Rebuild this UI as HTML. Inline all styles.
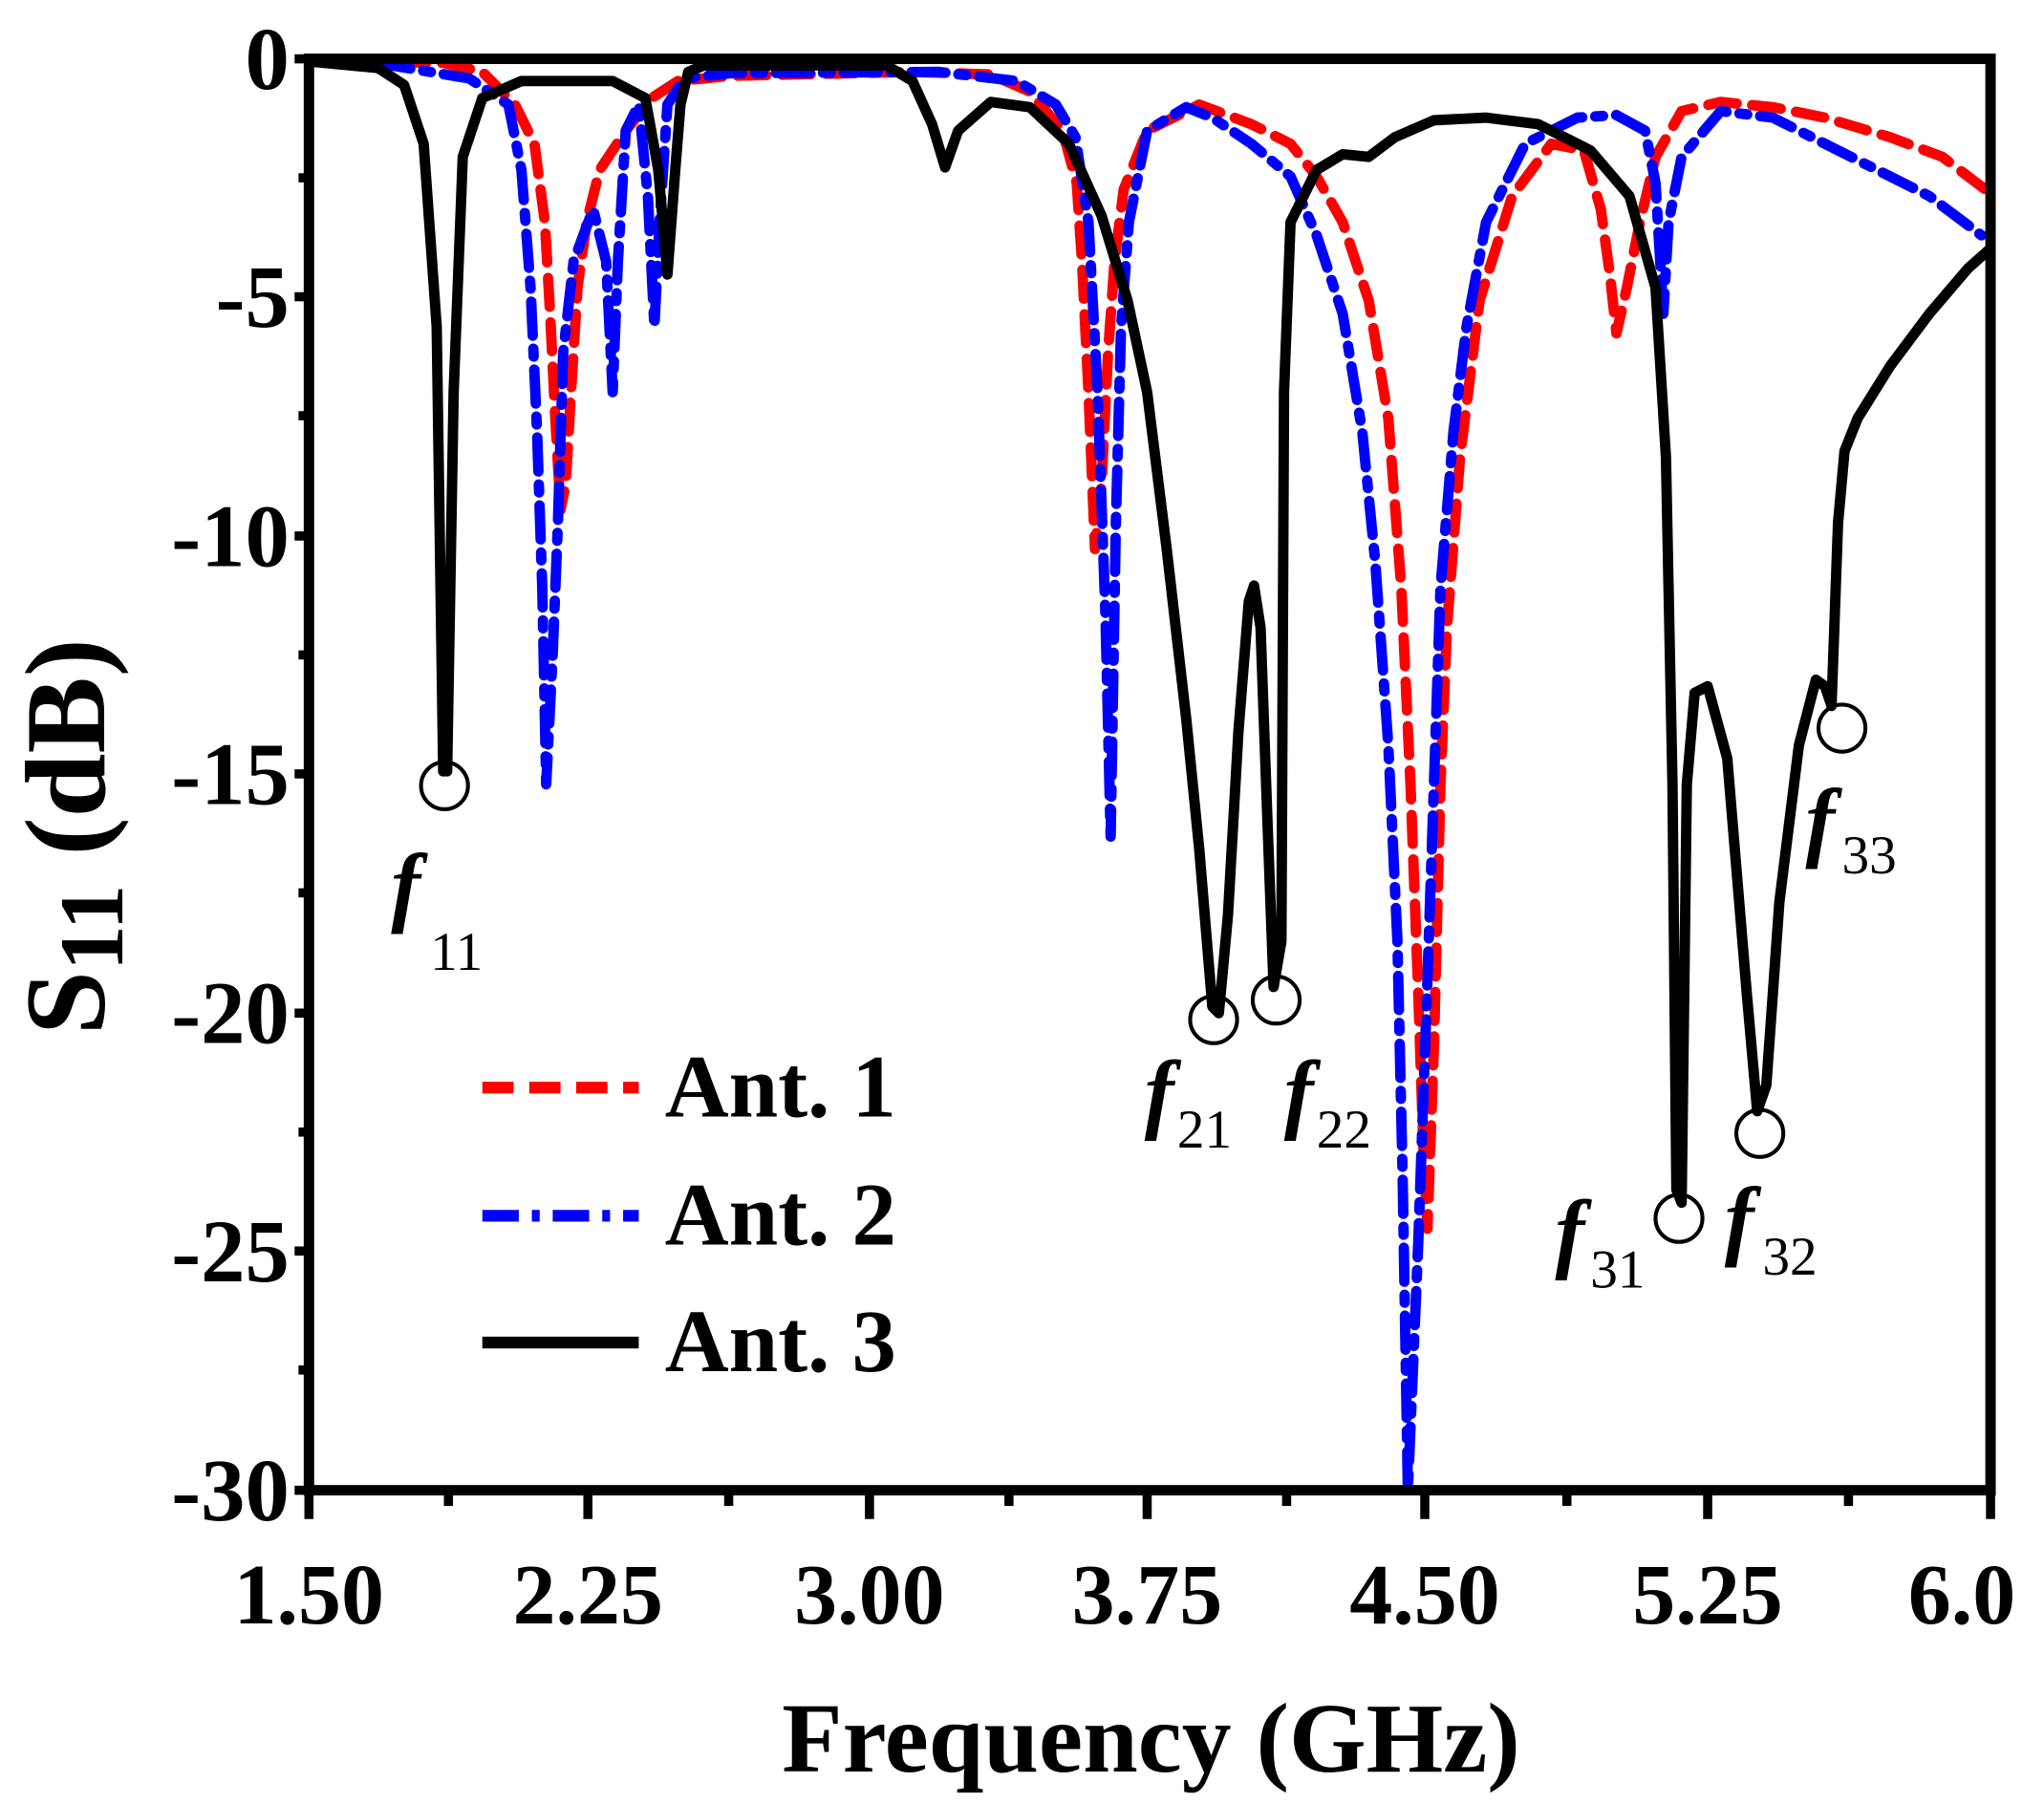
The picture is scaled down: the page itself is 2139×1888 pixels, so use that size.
<!DOCTYPE html>
<html><head><style>html,body{margin:0;padding:0;background:#fff}svg{display:block}</style></head>
<body>
<svg width="2139" height="1888" viewBox="0 0 1568 1380" preserveAspectRatio="none" xmlns="http://www.w3.org/2000/svg" font-family="Liberation Serif, serif">
<rect width="1568" height="1380" fill="#fff"/>
<g fill="none" stroke-linejoin="round" stroke-linecap="round">
<polyline stroke="#ff0000" stroke-width="8" stroke-dasharray="22,12" points="237,47 340,48 370,55 395,80 410,110 418,170 422,240 426,320 430,390 434,370 438,300 443,220 450,170 460,130 480,100 500,75 520,62 560,58 700,55 760,57 790,70 815,100 826,140 830,200 835,300 840,420 845,370 850,270 855,200 862,145 880,100 920,80 960,95 990,110 1010,135 1030,170 1050,230 1065,320 1075,450 1082,600 1088,760 1092,880 1095,940 1100,800 1105,600 1110,480 1120,350 1135,230 1160,150 1190,110 1215,115 1228,160 1235,210 1240,255 1248,220 1258,170 1270,120 1290,85 1320,78 1360,82 1400,90 1450,105 1490,120 1527,148"/>
<polyline stroke="#0000ff" stroke-width="8" stroke-dasharray="26,10,6,10" points="237,47 300,50 360,60 390,80 400,130 407,220 412,330 416,450 419,600 424,500 428,400 432,270 440,200 455,160 465,200 470,300 474,200 480,100 490,80 497,150 502,250 506,170 512,80 525,60 560,56 720,55 780,62 810,80 825,105 835,170 842,300 848,470 852,640 856,400 860,250 866,170 880,100 910,82 930,90 960,110 990,135 1010,180 1030,240 1045,330 1055,430 1065,570 1072,720 1076,900 1080,1140 1088,950 1095,750 1100,600 1105,450 1115,330 1125,250 1140,170 1170,110 1210,90 1240,88 1262,100 1270,140 1276,240 1280,170 1290,120 1320,85 1360,90 1400,110 1440,130 1480,150 1520,180"/>
<polyline stroke="#000" stroke-width="8" points="237,47 290,52 310,65 325,110 335,250 340,590 343,590 348,300 355,120 370,75 400,62 470,62 495,75 505,130 512,210 518,130 522,80 528,55 540,50 680,50 700,62 715,95 725,128 735,100 760,78 790,82 820,110 845,165 865,230 880,300 895,420 910,550 920,650 930,770 935,775 942,700 950,560 958,460 962,448 967,480 972,620 977,755 983,720 985,300 990,170 1010,130 1030,118 1050,120 1070,105 1100,92 1140,90 1180,95 1220,115 1250,150 1270,220 1278,350 1283,600 1286,910 1290,920 1294,600 1300,530 1310,525 1325,580 1340,760 1348,850 1355,830 1365,690 1380,570 1393,520 1400,525 1405,540 1410,400 1415,345 1425,320 1450,280 1480,240 1510,205 1527,190"/>
</g>
<rect x="237" y="45" width="1290" height="1095" fill="none" stroke="#000" stroke-width="8"/>
<g stroke="#000" stroke-width="7">
<line x1="237" y1="1140" x2="237" y2="1162"/><line x1="451" y1="1140" x2="451" y2="1162"/><line x1="667" y1="1140" x2="667" y2="1162"/><line x1="880" y1="1140" x2="880" y2="1162"/><line x1="1093" y1="1140" x2="1093" y2="1162"/><line x1="1310" y1="1140" x2="1310" y2="1162"/><line x1="1527" y1="1140" x2="1527" y2="1162"/>
<line x1="344" y1="1140" x2="344" y2="1152"/><line x1="559" y1="1140" x2="559" y2="1152"/><line x1="774" y1="1140" x2="774" y2="1152"/><line x1="987" y1="1140" x2="987" y2="1152"/><line x1="1202" y1="1140" x2="1202" y2="1152"/><line x1="1418" y1="1140" x2="1418" y2="1152"/>
<line x1="226" y1="45" x2="237" y2="45"/><line x1="226" y1="227" x2="237" y2="227"/><line x1="226" y1="410" x2="237" y2="410"/><line x1="226" y1="592" x2="237" y2="592"/><line x1="226" y1="775" x2="237" y2="775"/><line x1="226" y1="957" x2="237" y2="957"/><line x1="226" y1="1140" x2="237" y2="1140"/>
<line x1="229" y1="136" x2="237" y2="136"/><line x1="229" y1="318" x2="237" y2="318"/><line x1="229" y1="501" x2="237" y2="501"/><line x1="229" y1="683" x2="237" y2="683"/><line x1="229" y1="866" x2="237" y2="866"/><line x1="229" y1="1048" x2="237" y2="1048"/>
</g>
<g font-size="68" font-weight="bold" text-anchor="end">
<text x="222" y="68">0</text><text x="222" y="250">-5</text><text x="222" y="433">-10</text><text x="222" y="615">-15</text><text x="222" y="798">-20</text><text x="222" y="980">-25</text><text x="222" y="1163">-30</text>
</g>
<g font-size="66" font-weight="bold" text-anchor="middle">
<text x="237" y="1242">1.50</text><text x="451" y="1242">2.25</text><text x="667" y="1242">3.00</text><text x="880" y="1242">3.75</text><text x="1093" y="1242">4.50</text><text x="1310" y="1242">5.25</text><text x="1505" y="1242">6.0</text>
</g>
<text x="883" y="1355" font-size="76" font-weight="bold" text-anchor="middle">Frequency (GHz)</text>
<text transform="translate(80,640) rotate(-90)" font-size="88" font-weight="bold" text-anchor="middle">S<tspan font-size="70" dy="14">11</tspan><tspan dy="-14"> (dB)</tspan></text>
<g stroke-width="9">
<line x1="370" y1="832" x2="490" y2="832" stroke="#f00" stroke-dasharray="24,12"/>
<line x1="370" y1="930" x2="490" y2="930" stroke="#00f" stroke-dasharray="28,10,6,10"/>
<line x1="370" y1="1027" x2="490" y2="1027" stroke="#000"/>
</g>
<g font-size="68" font-weight="bold">
<text x="510" y="854">Ant. 1</text><text x="510" y="952">Ant. 2</text><text x="510" y="1049">Ant. 3</text>
</g>
<g fill="none" stroke="#000" stroke-width="3">
<circle cx="341" cy="601" r="18"/><circle cx="931" cy="780" r="18"/><circle cx="979" cy="765" r="18"/><circle cx="1288" cy="932" r="18"/><circle cx="1350" cy="867" r="18"/><circle cx="1413" cy="557" r="18"/>
</g>
<g font-size="68" font-style="italic" font-weight="bold">
<text x="300" y="700">f</text><text x="878" y="858">f</text><text x="985" y="858">f</text><text x="1193" y="965">f</text><text x="1323" y="955">f</text><text x="1385" y="650">f</text>
</g>
<g font-size="42">
<text x="330" y="742">11</text><text x="903" y="878">21</text><text x="1010" y="878">22</text><text x="1220" y="985">31</text><text x="1352" y="975">32</text><text x="1413" y="668">33</text>
</g>
</svg>
</body></html>
